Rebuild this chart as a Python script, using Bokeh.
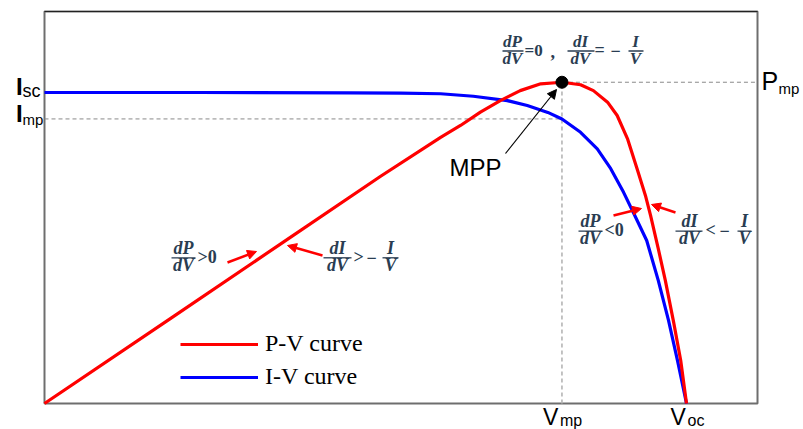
from bokeh.plotting import figure
from bokeh.models import (Label, Arrow, NormalHead, Legend, LegendItem,
                          ColumnDataSource)
from bokeh.embed import file_html
from bokeh.resources import INLINE

# ---------------- data (normalised: V_oc = 1, I_sc = 1) ----------------
# I-V curve
iv_voltage = [0.0, 0.243, 0.477, 0.555, 0.617, 0.668, 0.721, 0.752, 0.784,
              0.806, 0.835, 0.861, 0.882, 0.902, 0.917, 0.938, 0.956, 0.972,
              0.986, 1.0]
iv_current = [1.0, 1.0, 0.999, 0.998, 0.996, 0.988, 0.974, 0.958, 0.936,
              0.915, 0.872, 0.819, 0.755, 0.679, 0.615, 0.524, 0.396, 0.267,
              0.138, 0.0]
# P-V curve (power drawn on the same vertical scale)
pv_voltage = [0.0, 0.196, 0.372, 0.523, 0.617, 0.648, 0.679, 0.710, 0.741,
              0.773, 0.806, 0.835, 0.855, 0.877, 0.892, 0.908, 0.923, 0.936,
              0.944, 0.956, 0.967, 0.980, 0.991, 1.0]
pv_power = [0.0, 0.273, 0.519, 0.730, 0.856, 0.894, 0.937, 0.974, 1.006,
            1.028, 1.033, 1.025, 1.006, 0.969, 0.926, 0.852, 0.755, 0.669,
            0.605, 0.498, 0.396, 0.261, 0.138, 0.0]

V_MP = 0.806
V_OC = 1.0
I_SC = 1.0
I_MP = 0.915
P_MP = 1.033

# plot box extent (data units)
BOX_RIGHT = 1.1106
BOX_TOP = 1.2605

legend_labels = ["P-V curve", "I-V curve"]

RED = "#ff0000"
BLUE = "#0000ff"
FORM = "#2a3d52"

W, H = 803, 429
X0_PX, XS = 44, 642     # frame geometry: pixel of V=0, pixels per unit V
Y0_PX, YS = 403, 311    # pixel of Y=0, pixels per unit Y
BASE = 0.35             # baseline correction (fraction of font size)

# ---------------- figure ----------------
p = figure(width=W, height=H,
           x_range=(-X0_PX / XS, (W - X0_PX) / XS),
           y_range=((Y0_PX - H) / YS, Y0_PX / YS),
           output_backend="svg", toolbar_location=None, title=None,
           min_border=0)
p.axis.visible = False
p.grid.visible = False
p.outline_line_color = None
p.background_fill_color = "white"
p.border_fill_color = "white"


def D(px, py):
    """annotation placement helper (pixel -> data coords)"""
    return (px - X0_PX) / XS, (Y0_PX - py) / YS


# plot box
p.quad(left=[0], right=[BOX_RIGHT], bottom=[0], top=[BOX_TOP],
       fill_alpha=0, line_color="#6e6e6e", line_width=2)
p.segment(x0=[0], y0=[BOX_TOP], x1=[BOX_RIGHT], y1=[BOX_TOP],
          line_color="#222222", line_width=1.2)

# dashed guide lines
guides = ColumnDataSource(dict(x0=[0, V_MP], y0=[I_MP, P_MP],
                               x1=[V_MP, BOX_RIGHT], y1=[I_MP, P_MP]))
p.segment("x0", "y0", "x1", "y1", source=guides, line_color="#8a8a8a",
          line_width=1, line_dash="4 3")
p.segment(x0=[V_MP], y0=[0], x1=[V_MP], y1=[P_MP], line_color="#b5b5b5",
          line_width=1.6, line_dash="4 3")

# curves
r_iv = p.line(iv_voltage, iv_current, line_color=BLUE, line_width=3.2,
              line_join="round")
r_pv = p.line(pv_voltage, pv_power, line_color=RED, line_width=3.2,
              line_join="round")

# MPP dot
p.scatter([V_MP], [P_MP], size=12, color="black")

# legend
legend = Legend(items=[LegendItem(label=legend_labels[0], renderers=[r_pv]),
                       LegendItem(label=legend_labels[1], renderers=[r_iv])],
                location=(180, 39), padding=0, margin=0, spacing=6,
                glyph_width=78, glyph_height=26, label_height=26,
                label_standoff=7, label_text_font="Liberation Serif",
                label_text_font_size="24px", label_text_color="black",
                background_fill_alpha=0, border_line_alpha=0)
p.add_layout(legend)


# ---------------- axis-like labels ----------------
def sublabel(x, y, text, size, yo, style="normal"):
    p.add_layout(Label(x=x, y=y, text=text, y_offset=yo + BASE * size,
                       text_font="Liberation Sans", text_font_size=f"{size}px",
                       text_font_style=style, text_color="black",
                       text_align="left", text_baseline="alphabetic"))


sublabel(D(15.5, 0)[0], I_SC, "I", 24, -2, "bold")
sublabel(D(22, 0)[0], I_SC, "sc", 18, -5)
sublabel(D(15.5, 0)[0], I_MP, "I", 24, -3, "bold")
sublabel(D(22, 0)[0], I_MP, "mp", 15, -6)

sublabel(D(761, 0)[0], P_MP, "P", 25, -8)
sublabel(D(778, 0)[0], P_MP, "mp", 15, -12)

sublabel(V_MP - 19 / XS, 0, "V", 23, -21.5)
sublabel(V_MP - 2 / XS, 0, "mp", 16, -22.5)
sublabel(V_OC - 16 / XS, 0, "V", 23, -21.5)
sublabel(V_OC + 1 / XS, 0, "oc", 16, -22.5)

mx, my = D(449, 175)
sublabel(mx, my, "MPP", 24, 0)

# MPP arrow
ax0, ay0 = D(505, 153)
ax1, ay1 = D(556, 89)
p.add_layout(Arrow(x_start=ax0, y_start=ay0, x_end=ax1, y_end=ay1,
                   line_color="black", line_width=1.2,
                   end=NormalHead(size=9, fill_color="black", line_color="black")))

# red arrows
for (sx, sy, ex, ey) in [(227, 262, 256, 251), (322, 255, 287, 245),
                         (613, 215, 641, 208), (675, 212, 651, 204)]:
    x0, y0 = D(sx, sy)
    x1, y1 = D(ex, ey)
    p.add_layout(Arrow(x_start=x0, y_start=y0, x_end=x1, y_end=y1,
                       line_color=RED, line_width=2.5,
                       end=NormalHead(size=9, fill_color=RED, line_color=RED)))

# ---------------- formulas ----------------
bars = dict(x0=[], y0=[], x1=[], y1=[])


def flabel(px, py, text, size, align="left", style="bold italic"):
    x, y = D(px, py - BASE * size)
    p.add_layout(Label(x=x, y=y, text=text, text_font="Liberation Serif",
                       text_font_size=f"{size}px", text_font_style=style,
                       text_color=FORM, text_align=align,
                       text_baseline="alphabetic"))


def frac(cx, num, den, by, bx0, bx1, size):
    flabel(cx, by - 4, num, size, "center")
    flabel(cx, by + 13, den, size, "center")
    a = D(bx0, by)
    b = D(bx1, by)
    bars["x0"].append(a[0]); bars["y0"].append(a[1])
    bars["x1"].append(b[0]); bars["y1"].append(b[1])


def plain(px, py, text, size):
    flabel(px, py, text, size, "left", "bold")


MINUS = "\u2212"
# top: dP/dV = 0 , dI/dV = -I/V
frac(512, "dP", "dV", 50.5, 502, 523, 17)
plain(524, 56, "=0", 17)
plain(550, 57, ",", 18)
frac(580, "dI", "dV", 50.5, 567, 594, 17)
plain(594, 56, "=", 18)
plain(610, 56, MINUS, 18)
frac(635, "I", "V", 50.5, 628, 643, 17)

# left: dP/dV > 0 , dI/dV > -I/V
frac(183, "dP", "dV", 257.3, 171, 195, 18)
plain(197, 263, ">0", 18)
frac(337, "dI", "dV", 257.3, 323, 351, 18)
plain(353, 263, ">", 18)
plain(366, 263, MINUS, 18)
frac(390, "I", "V", 257.3, 382, 398, 18)

# right: dP/dV < 0 , dI/dV < -I/V
frac(590, "dP", "dV", 230.7, 578, 602, 18)
plain(604, 236, "<0", 18)
frac(689, "dI", "dV", 230.7, 675, 702, 18)
plain(705, 236, "<", 18)
plain(719, 236, MINUS, 18)
frac(744, "I", "V", 230.7, 737, 751, 18)

p.segment("x0", "y0", "x1", "y1", source=ColumnDataSource(bars),
          line_color=FORM, line_width=1.3)

open("out.html", "w").write(file_html(p, INLINE))
